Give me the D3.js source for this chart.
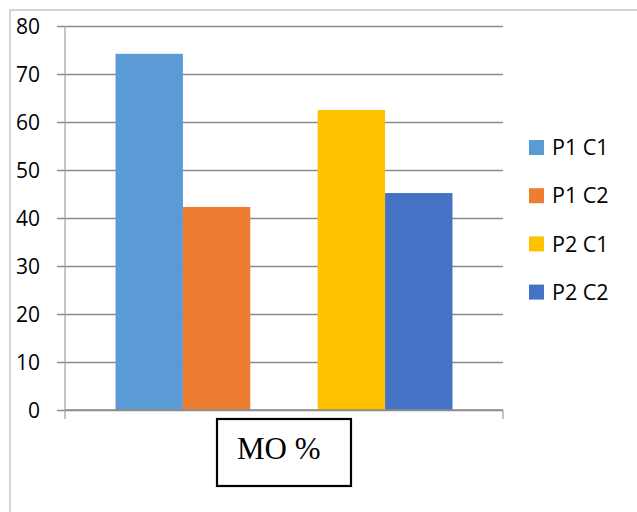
<!DOCTYPE html>
<html>
<head>
<meta charset="utf-8">
<script src="https://cdn.jsdelivr.net/npm/d3@7"></script>
<style>
  html, body { margin: 0; padding: 0; background: #fff; }
  svg { display: block; }
</style>
</head>
<body>
<div id="chart"></div>
<script>
// Category and series
const category = "MO %";
const seriesNames = ["P1 C1", "P1 C2", "P2 C1", "P2 C2"];
const seriesValues = [74.2, 42.3, 62.5, 45.2];
const seriesColors = ["#5b9bd5", "#ed7d31", "#ffc000", "#4472c4"];
// Slot order inside the category; the empty slot separates the two pairs
const slotOrder = ["P1 C1", "P1 C2", "", "P2 C1", "P2 C2"];
const yTicks = [0, 10, 20, 30, 40, 50, 60, 70, 80];

const W = 637, H = 512;
const plot = { left: 65, right: 503, top: 26, bottom: 410 };

const svg = d3.select("#chart").append("svg")
  .attr("width", W).attr("height", H);

// Chart area frame (top and left edges visible)
svg.append("path")
  .attr("d", `M10,${H + 2} L10,10 L${W + 2},10`)
  .attr("fill", "none")
  .attr("stroke", "#c6c6c6")
  .attr("stroke-width", 1.5);

const y = d3.scaleLinear().domain([0, 80]).range([plot.bottom, plot.top]);
const x = d3.scaleBand().domain(slotOrder)
  .range([plot.left, plot.right])
  .paddingInner(0).paddingOuter(0.75);

// Horizontal gridlines with short outside tick marks
const yAxis = d3.axisLeft(y).tickValues(yTicks)
  .tickSize(-(plot.right - plot.left + 8))
  .tickPadding(0)
  .tickFormat(d3.format("d"));
const gy = svg.append("g")
  .attr("transform", `translate(${plot.left - 8},0)`)
  .call(yAxis);
gy.select(".domain").remove();
gy.selectAll(".tick line")
  .attr("x1", 0).attr("x2", plot.right - plot.left + 8)
  .attr("stroke", "#8c8c8c").attr("stroke-width", 1.3);
gy.selectAll(".tick text")
  .attr("x", -17)
  .attr("dy", "0.36em")
  .attr("fill", "#000")
  .style("font-family", "'Open Sans', 'Liberation Sans', sans-serif")
  .style("font-size", "21px");

// Vertical axis line and right-end tick of the category axis
svg.append("line")
  .attr("x1", plot.left).attr("x2", plot.left)
  .attr("y1", plot.top).attr("y2", plot.bottom + 9)
  .attr("stroke", "#a6a6a6").attr("stroke-width", 1.3);
svg.append("line")
  .attr("x1", plot.right).attr("x2", plot.right)
  .attr("y1", plot.bottom).attr("y2", plot.bottom + 9)
  .attr("stroke", "#a6a6a6").attr("stroke-width", 1.3);

// Bars
svg.append("g").selectAll("rect")
  .data(seriesNames.map((n, i) => ({ name: n, value: seriesValues[i], color: seriesColors[i] })))
  .join("rect")
  .attr("x", d => x(d.name))
  .attr("width", x.bandwidth())
  .attr("y", d => y(d.value))
  .attr("height", d => y(0) - y(d.value))
  .attr("fill", d => d.color);

// Baseline on top of bars
svg.append("line")
  .attr("x1", plot.left).attr("x2", plot.right)
  .attr("y1", y(0)).attr("y2", y(0))
  .attr("stroke", "#8c8c8c").attr("stroke-width", 1.3);

// Category label in a box
const cx = (plot.left + plot.right) / 2;
svg.append("rect")
  .attr("x", cx - 67).attr("y", 419)
  .attr("width", 134).attr("height", 67)
  .attr("fill", "#fff")
  .attr("stroke", "#000").attr("stroke-width", 2.2);
svg.append("text")
  .attr("x", 237).attr("y", 459)
  .attr("fill", "#000")
  .style("font-family", "'Liberation Serif', 'Times New Roman', serif")
  .style("font-size", "31px")
  .text(category);

// Legend
const legend = svg.append("g").selectAll("g")
  .data(seriesNames)
  .join("g")
  .attr("transform", (d, i) => `translate(529,${147.5 + i * 48.2})`);
legend.append("rect")
  .attr("x", 0).attr("y", -7.5)
  .attr("width", 15).attr("height", 15)
  .attr("fill", (d, i) => seriesColors[i]);
legend.append("text")
  .attr("x", 23).attr("dy", "0.36em")
  .attr("fill", "#000")
  .style("font-family", "'Open Sans', 'Liberation Sans', sans-serif")
  .style("font-size", "21.5px")
  .text(d => d);
</script>
</body>
</html>
